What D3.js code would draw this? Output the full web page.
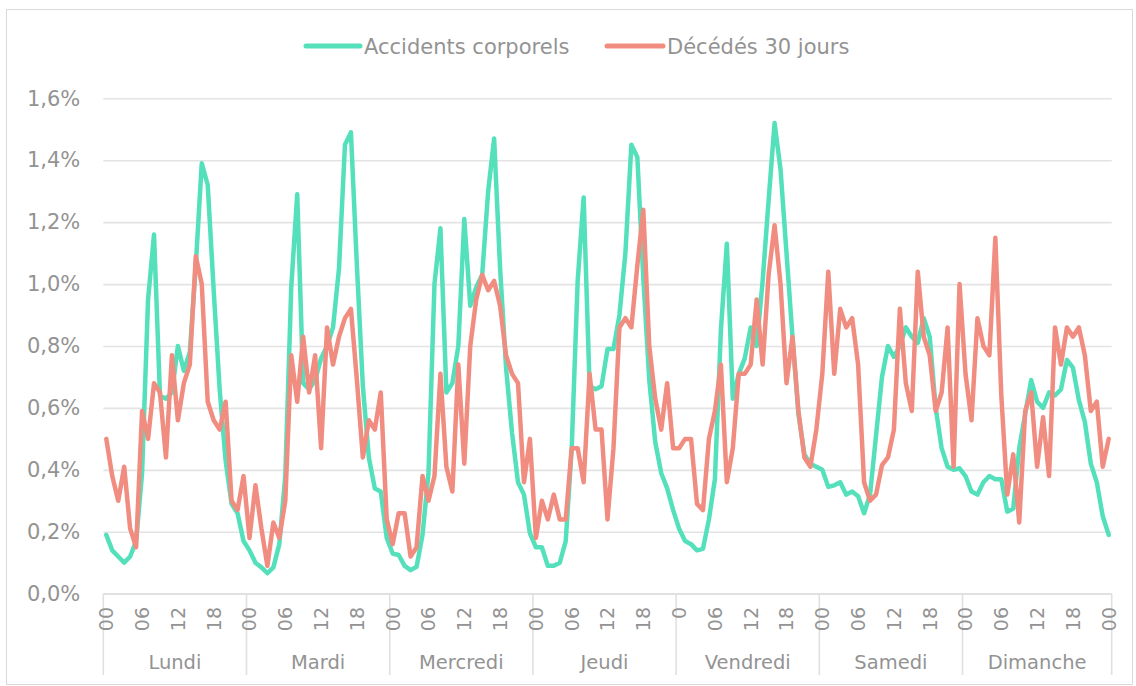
<!DOCTYPE html>
<html><head><meta charset="utf-8">
<script src="https://cdn.jsdelivr.net/npm/d3@7"></script>
<style>
body{margin:0;background:#fff}
text{font-family:"DejaVu Sans",Verdana,sans-serif;fill:#939393}
</style>
</head><body><svg id="c" width="1136" height="686"></svg>
<script>
const days = ["Lundi","Mardi","Mercredi","Jeudi","Vendredi","Samedi","Dimanche"];
const hourTickLabels = [
  "00","06","12","18", "00","06","12","18", "00","06","12","18", "00","06","12","18",
  "0","06","12","18", "00","06","12","18", "00","06","12","18", "00"];
const seriesNames = ["Accidents corporels","Décédés 30 jours"];
const seriesColors = ["#54E0BB","#F18D80"];
const yTicks = [0,0.2,0.4,0.6,0.8,1.0,1.2,1.4,1.6];

// values in % of the total, one per hour (Lundi 00 ... Dimanche 23, then 00)
const accidents = [
  0.19,0.14,0.12,0.10,0.12,0.17,0.39,0.95,1.16,0.64,0.63,0.65,0.80,0.72,0.78,1.06,1.39,1.32,0.98,0.66,0.43,0.29,0.26,0.17,
  0.14,0.10,0.085,0.066,0.085,0.16,0.38,0.99,1.29,0.68,0.66,0.69,0.76,0.80,0.86,1.05,1.45,1.49,1.06,0.67,0.44,0.34,0.33,0.18,
  0.13,0.125,0.09,0.076,0.087,0.19,0.39,1.00,1.18,0.65,0.68,0.80,1.21,0.93,0.99,1.03,1.30,1.47,1.05,0.73,0.52,0.36,0.32,0.195,
  0.15,0.15,0.09,0.09,0.10,0.17,0.47,1.01,1.28,0.67,0.66,0.67,0.79,0.79,0.90,1.10,1.45,1.41,1.02,0.69,0.49,0.39,0.34,0.27,
  0.21,0.17,0.16,0.14,0.145,0.24,0.37,0.85,1.13,0.63,0.71,0.76,0.86,0.80,1.01,1.27,1.52,1.37,1.10,0.83,0.58,0.45,0.42,0.41,
  0.40,0.345,0.35,0.36,0.32,0.33,0.315,0.26,0.32,0.51,0.70,0.80,0.765,0.80,0.86,0.83,0.81,0.89,0.83,0.60,0.47,0.41,0.40,0.405,
  0.38,0.33,0.32,0.36,0.38,0.37,0.37,0.265,0.275,0.47,0.58,0.69,0.62,0.60,0.65,0.64,0.66,0.755,0.73,0.625,0.555,0.42,0.36,0.25,
  0.19];
const deces = [
  0.50,0.38,0.30,0.41,0.21,0.15,0.59,0.50,0.68,0.65,0.44,0.77,0.56,0.68,0.74,1.09,1.00,0.62,0.56,0.53,0.62,0.30,0.27,0.38,
  0.18,0.35,0.21,0.09,0.23,0.18,0.30,0.77,0.62,0.83,0.65,0.77,0.47,0.86,0.74,0.83,0.89,0.92,0.69,0.44,0.56,0.53,0.65,0.24,
  0.16,0.26,0.26,0.12,0.15,0.38,0.30,0.38,0.71,0.41,0.33,0.74,0.42,0.80,0.95,1.03,0.98,1.01,0.93,0.77,0.71,0.68,0.36,0.50,
  0.18,0.30,0.24,0.32,0.24,0.24,0.47,0.47,0.36,0.71,0.53,0.53,0.24,0.47,0.86,0.89,0.86,1.06,1.24,0.80,0.63,0.53,0.68,0.47,
  0.47,0.50,0.50,0.29,0.27,0.50,0.59,0.74,0.36,0.47,0.71,0.71,0.74,0.95,0.74,1.03,1.19,1.00,0.68,0.83,0.59,0.44,0.41,0.53,
  0.71,1.04,0.71,0.92,0.86,0.89,0.74,0.36,0.30,0.32,0.415,0.44,0.53,0.92,0.68,0.59,1.04,0.83,0.77,0.59,0.65,0.86,0.41,1.00,
  0.71,0.56,0.89,0.80,0.77,1.15,0.64,0.32,0.45,0.23,0.59,0.65,0.41,0.57,0.38,0.86,0.74,0.86,0.83,0.86,0.77,0.59,0.62,0.41,
  0.50];

const svg = d3.select("#c");
svg.append("rect").attr("x",6.5).attr("y",9.5).attr("width",1126).attr("height",675)
  .attr("fill","#fff").attr("stroke","#d9d9d9");

const plotLeft = 103.3, plotRight = 1111.7, plotTop = 98.3, plotBottom = 593.7;
const idx = d3.range(accidents.length);
const x = d3.scaleBand().domain(idx).range([plotLeft, plotRight]).padding(0);
const cx = i => x(i) + x.bandwidth() / 2;
const y = d3.scaleLinear().domain([0, 1.6]).range([plotBottom, plotTop]);

// Y axis + gridlines
const yAxis = d3.axisLeft(y).tickValues(yTicks).tickSize(-(plotRight - plotLeft)).tickPadding(23)
  .tickFormat(d => d3.format(".1f")(d).replace(".", ",") + "%");
const gy = svg.append("g").attr("transform", `translate(${plotLeft},0)`).call(yAxis);
gy.select(".domain").remove();
gy.selectAll(".tick line").attr("stroke", "#e3e3e3").attr("stroke-width", 1.6);
gy.selectAll(".tick text").style("font-size", "21px").attr("fill", "#939393");

// X axis (multi-level categories)
const gx = svg.append("g");
const boundaries = days.map((d, k) => x(k * 24)).concat([plotRight]);
gx.selectAll("line.sep").data(boundaries).join("line").attr("class", "sep")
  .attr("x1", d => d).attr("x2", d => d).attr("y1", plotBottom).attr("y2", 675)
  .attr("stroke", "#e0e0e0").attr("stroke-width", 1.6);
gx.append("line").attr("x1", plotLeft).attr("x2", plotRight).attr("y1", plotBottom).attr("y2", plotBottom)
  .attr("stroke", "#e0e0e0").attr("stroke-width", 1.6);

const tickIdx = hourTickLabels.map((l, k) => k * 6);
gx.selectAll("text.hour").data(hourTickLabels).join("text").attr("class", "hour")
  .attr("transform", (d, k) => `translate(${cx(tickIdx[k])},607) rotate(-90)`)
  .attr("text-anchor", "end").attr("dy", "0.36em")
  .style("font-size", "19px").text(d => d);

gx.selectAll("text.day").data(days).join("text").attr("class", "day")
  .attr("x", (d, k) => (boundaries[k] + boundaries[k + 1]) / 2)
  .attr("y", 669).attr("text-anchor", "middle")
  .style("font-size", "19.5px").text(d => d);

// Lines
const line = d3.line().x((d, i) => cx(i)).y(d => y(d));
[accidents, deces].forEach((s, k) => {
  svg.append("path").datum(s).attr("d", line).attr("fill", "none")
    .attr("stroke", seriesColors[k]).attr("stroke-width", 4.5)
    .attr("stroke-linejoin", "round").attr("stroke-linecap", "round");
});

// Legend
const legendPos = [{x1: 306, x2: 360, tx: 364}, {x1: 607, x2: 663, tx: 667}];
const lg = svg.append("g");
seriesNames.forEach((n, k) => {
  const p = legendPos[k];
  lg.append("line").attr("x1", p.x1).attr("x2", p.x2).attr("y1", 46).attr("y2", 46)
    .attr("stroke", seriesColors[k]).attr("stroke-width", 5).attr("stroke-linecap", "round");
  lg.append("text").attr("x", p.tx).attr("y", 46).attr("dy", "0.36em")
    .style("font-size", "21px").text(n);
});
</script>
</body></html>
